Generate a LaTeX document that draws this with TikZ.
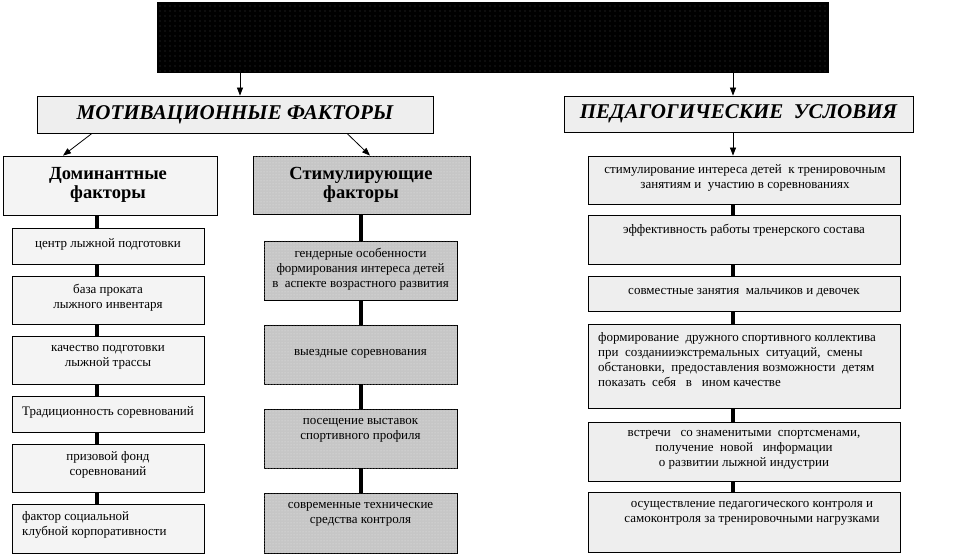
\documentclass[tikz,border=0pt]{standalone}
\usepackage{fontspec}
\setmainfont{Liberation Serif}
\usetikzlibrary{arrows.meta,patterns}
\pgfdeclarepatternformonly{sparsedots}{\pgfqpoint{-1pt}{-1pt}}{\pgfqpoint{1pt}{1pt}}{\pgfqpoint{5pt}{5pt}}{\pgfpathcircle{\pgfqpoint{0pt}{0pt}}{0.45pt}\pgfusepath{fill}}
\begin{document}
\begin{tikzpicture}[x=1pt,y=-1pt,
  box/.style={draw=black, line width=0.8pt, rectangle, inner sep=0pt},
  granite/.style={box, fill=gray!13},
  marble/.style={box, fill=gray!9},
  dotbox/.style={box, fill=gray!45, postaction={pattern=dots, pattern color=white!80!gray}},
  blackbox/.style={box, fill=black, postaction={pattern=sparsedots, pattern color=gray!70}},
  txt/.style={font=\fontsize{13}{15}\selectfont, align=center, inner sep=0pt},
  ltxt/.style={txt, align=left, anchor=west},
  head/.style={font=\fontsize{21}{24}\selectfont\bfseries\itshape, inner sep=0pt},
  sub/.style={font=\fontsize{18.5}{18.5}\selectfont\bfseries, align=center, inner sep=0pt},
  link/.style={line width=3.5pt},
  arr/.style={line width=0.8pt, -{Triangle[length=8pt,width=6pt]}}
]
\useasboundingbox (0,0) rectangle (962,556);
% x-coordinates for connectors
\coordinate (xa) at (97,0);
\coordinate (xb) at (361,0);
\coordinate (xc) at (733,0);
\coordinate (xt) at (240,0);
\coordinate (xm1) at (92,0);
\coordinate (xm2) at (63,0);
\coordinate (xm3) at (347,0);
\coordinate (xm4) at (370,0);

% top
\node[blackbox, minimum width=671, minimum height=70] (top) at (492.5,37) {};
% headers
\node[granite, minimum width=396, minimum height=37] (mh) at (235,114.5) {};
\node[head] (mht) at (235,114.5) {МОТИВАЦИОННЫЕ ФАКТОРЫ};
\node[granite, minimum width=349, minimum height=36] (ph) at (738.5,114) {};
\node[head] (pht) at (738.5,114) {ПЕДАГОГИЧЕСКИЕ\ \ УСЛОВИЯ};
% sub headers
\node[marble, minimum width=214, minimum height=59] (dom) at (110,185.5) {};
\node[sub] (domt) at (108,185) {Доминантные\\[1pt]факторы};
\node[dotbox, minimum width=217, minimum height=58] (sti) at (361.5,185) {};
\node[sub] (stit) at (361,185) {Стимулирующие\\[1pt]факторы};

% left column
\node[marble, minimum width=192, minimum height=36] (a1) at (108,246) {};
\node[txt] (a1t) at (108,244) {центр лыжной подготовки};
\node[marble, minimum width=192, minimum height=48] (a2) at (108,300) {};
\node[txt] (a2t) at (108,298) {база проката\\лыжного инвентаря};
\node[marble, minimum width=192, minimum height=48] (a3) at (108,360) {};
\node[txt] (a3t) at (108,357) {качество подготовки\\лыжной трассы};
\node[marble, minimum width=192, minimum height=36] (a4) at (108,414) {};
\node[txt] (a4t) at (108,412) {Традиционность соревнований};
\node[marble, minimum width=192, minimum height=48] (a5) at (108,468) {};
\node[txt] (a5t) at (108,465) {призовой фонд\\соревнований};
\node[marble, minimum width=192, minimum height=49] (a6) at (108,528.5) {};
\node[ltxt] (a6t) at (22,525) {фактор социальной\\клубной корпоративности};

% middle column
\node[dotbox, minimum width=193, minimum height=59] (b1) at (360.5,270.5) {};
\node[txt] (b1t) at (360.5,269) {гендерные особенности\\формирования интереса детей\\в \ аспекте возрастного развития};
\node[dotbox, minimum width=193, minimum height=59] (b2) at (360.5,354.5) {};
\node[txt] (b2t) at (360.5,354) {выездные соревнования};
\node[dotbox, minimum width=193, minimum height=59] (b3) at (360.5,438.5) {};
\node[txt] (b3t) at (360.5,430) {посещение выставок\\спортивного профиля};
\node[dotbox, minimum width=193, minimum height=60] (b4) at (360.5,523) {};
\node[txt] (b4t) at (360.5,514) {современные технические\\средства контроля};

% right column
\node[granite, minimum width=312, minimum height=48] (c1) at (744,180) {};
\node[txt] (c1t) at (745,178) {стимулирование интереса детей \ к тренировочным\\занятиям и \ участию в соревнованиях};
\node[granite, minimum width=312, minimum height=49] (c2) at (744,239.5) {};
\node[txt] (c2t) at (744,230) {эффективность работы тренерского состава};
\node[granite, minimum width=312, minimum height=35] (c3) at (744,293.5) {};
\node[txt] (c3t) at (744,293) {совместные занятия \ мальчиков и девочек};
\node[granite, minimum width=312, minimum height=84] (c4) at (744,366) {};
\node[ltxt] (c4t) at (598,360) {формирование \ дружного спортивного коллектива\\при \ созданииэкстремальных \ ситуаций, \ смены\\обстановки, \ предоставления возможности \ детям\\показать \ себя \ \ в \ \ ином качестве};
\node[granite, minimum width=312, minimum height=59] (c5) at (744,451.5) {};
\node[txt] (c5t) at (744,450) {встречи \ \ со знаменитыми \ спортсменами,\\получение \ новой \ \ информации\\о развитии лыжной индустрии};
\node[granite, minimum width=312, minimum height=60] (c6) at (744,522) {};
\node[txt] (c6t) at (752,513) {осуществление педагогического контроля и\\самоконтроля за тренировочными нагрузками};

% arrows
\draw[arr] (top.south -| xt) -- (mh.north -| xt);
\draw[arr] (top.south -| xc) -- (ph.north -| xc);
\draw[arr] (mh.south -| xm1) -- (dom.north -| xm2);
\draw[arr] (mh.south -| xm3) -- (sti.north -| xm4);
\draw[arr] (ph.south -| xc) -- (c1.north -| xc);

% thick links
\draw[link] (dom.south -| xa) -- (a1.north -| xa);
\draw[link] (a1.south -| xa) -- (a2.north -| xa);
\draw[link] (a2.south -| xa) -- (a3.north -| xa);
\draw[link] (a3.south -| xa) -- (a4.north -| xa);
\draw[link] (a4.south -| xa) -- (a5.north -| xa);
\draw[link] (a5.south -| xa) -- (a6.north -| xa);

\draw[link] (sti.south -| xb) -- (b1.north -| xb);
\draw[link] (b1.south -| xb) -- (b2.north -| xb);
\draw[link] (b2.south -| xb) -- (b3.north -| xb);
\draw[link] (b3.south -| xb) -- (b4.north -| xb);

\draw[link] (c1.south -| xc) -- (c2.north -| xc);
\draw[link] (c2.south -| xc) -- (c3.north -| xc);
\draw[link] (c3.south -| xc) -- (c4.north -| xc);
\draw[link] (c4.south -| xc) -- (c5.north -| xc);
\draw[link] (c5.south -| xc) -- (c6.north -| xc);
\end{tikzpicture}
\end{document}
